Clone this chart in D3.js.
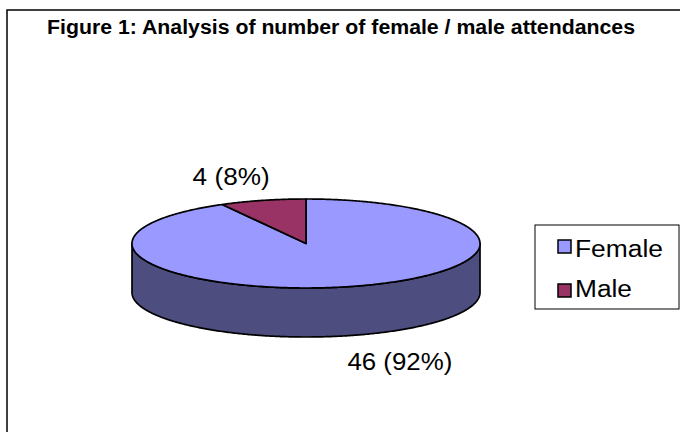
<!DOCTYPE html>
<html>
<head>
<meta charset="utf-8">
<script src="https://cdn.jsdelivr.net/npm/d3@7/dist/d3.min.js"></script>
<style>
  html, body { margin: 0; padding: 0; background: #ffffff; }
  svg { display: block; }
  text { font-family: "Liberation Sans", Arial, Helvetica, sans-serif; fill: #000; }
</style>
</head>
<body>
<svg id="chart" width="680" height="432"></svg>
<script>
// ---- data ----
const titleText = "Figure 1: Analysis of number of female / male attendances";
const categories = ["Female", "Male"];
const values = [46, 4];
const percents = ["92%", "8%"];
const topColors = ["#9999FF", "#993366"];
const sideColors = ["#4D4D80", "#4D1A33"];

// ---- layout ----
const svg = d3.select("#chart");

// chart frame (extends past right/bottom edge)
svg.append("rect")
  .attr("x", 7).attr("y", 10)
  .attr("width", 720).attr("height", 460)
  .attr("fill", "#fff").attr("stroke", "#000").attr("stroke-width", 1.5);

// title
svg.append("text")
  .attr("x", 341).attr("y", 34)
  .attr("text-anchor", "middle")
  .attr("font-size", 20).attr("font-weight", "bold")
  .attr("textLength", 588).attr("lengthAdjust", "spacingAndGlyphs")
  .text(titleText);

// ---- 3D pie ----
const cx = 306, cy = 243.5, rx = 174, ry = 44.5, depth = 49;
const pie = d3.pie().sort(null).startAngle(0).endAngle(2 * Math.PI);
const arcs = pie(values);

const px = a => cx + rx * Math.sin(a);
const py = (a, dz = 0) => cy - ry * Math.cos(a) + dz;

function arcPoints(a0, a1, dz) {
  const n = Math.max(2, Math.ceil(Math.abs(a1 - a0) / 0.01));
  const pts = [];
  for (let i = 0; i <= n; i++) {
    const a = a0 + (a1 - a0) * i / n;
    pts.push([px(a), py(a, dz)]);
  }
  return pts;
}

const line = d3.line();

// side walls (front half only)
arcs.forEach((d, i) => {
  const s = Math.max(d.startAngle, Math.PI / 2);
  const e = Math.min(d.endAngle, 3 * Math.PI / 2);
  if (e <= s) return;
  const topPts = arcPoints(s, e, 0);
  const botPts = arcPoints(e, s, depth);
  svg.append("path")
    .attr("d", line(topPts.concat(botPts)) + "Z")
    .attr("fill", sideColors[i])
    .attr("stroke", "#000").attr("stroke-width", 1.7)
    .attr("stroke-linejoin", "round");
});

// top faces
arcs.forEach((d, i) => {
  const pts = [[cx, cy]].concat(arcPoints(d.startAngle, d.endAngle, 0));
  svg.append("path")
    .attr("d", line(pts) + "Z")
    .attr("fill", topColors[i])
    .attr("stroke", "#000").attr("stroke-width", 1.7)
    .attr("stroke-linejoin", "round");
});

// data labels
arcs.forEach((d, i) => {
  const mid = (d.startAngle + d.endAngle) / 2;
  const front = Math.cos(mid) < 0;
  const kx = front ? 2.17 : 1.73;
  const x = cx + rx * kx * Math.sin(mid);
  const y = front ? py(mid, depth) + 34 : py(mid) - 15;
  const label = values[i] + " (" + percents[i] + ")";
  svg.append("text")
    .attr("x", x).attr("y", y)
    .attr("text-anchor", "middle")
    .attr("font-size", 23)
    .attr("textLength", front ? 105 : 77).attr("lengthAdjust", "spacingAndGlyphs")
    .text(label);
});

// ---- legend ----
const lg = svg.append("g");
lg.append("rect")
  .attr("x", 535).attr("y", 225).attr("width", 144).attr("height", 84)
  .attr("fill", "#fff").attr("stroke", "#000").attr("stroke-width", 1);

const ly = d3.scalePoint().domain(categories).range([257, 297]);
const swatchTop = [-17, -13];
const textLens = [88, 57];
categories.forEach((c, i) => {
  const y = ly(c);
  lg.append("rect")
    .attr("x", 558).attr("y", y + swatchTop[i])
    .attr("width", 13).attr("height", 13)
    .attr("fill", topColors[i]).attr("stroke", "#000").attr("stroke-width", 1.5);
  lg.append("text")
    .attr("x", 575).attr("y", y)
    .attr("font-size", 23)
    .attr("textLength", textLens[i]).attr("lengthAdjust", "spacingAndGlyphs")
    .text(c);
});
</script>
</body>
</html>
